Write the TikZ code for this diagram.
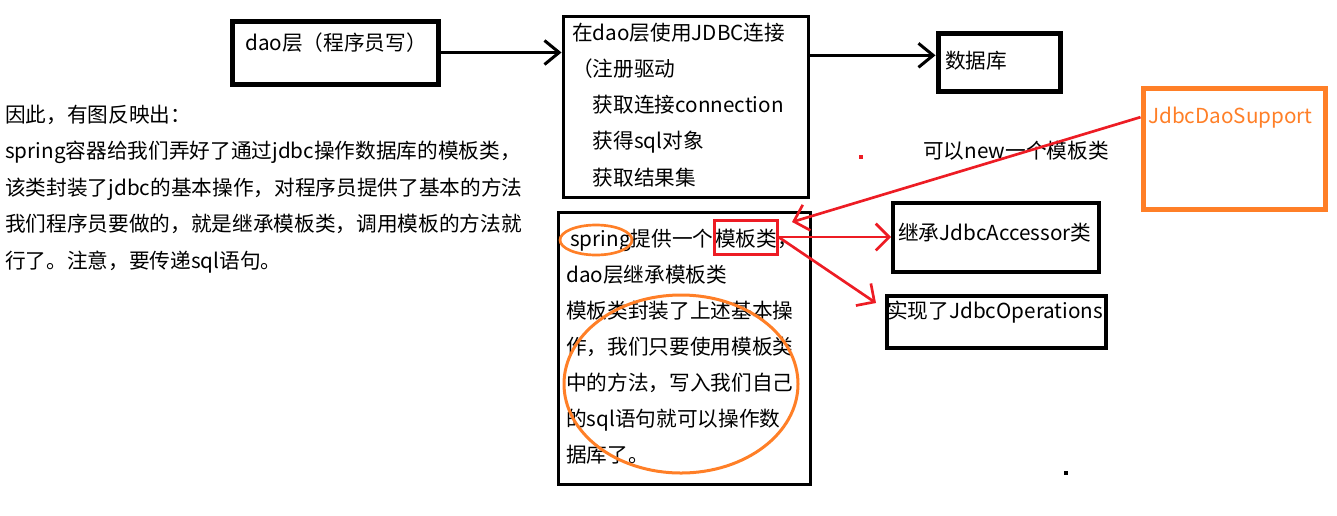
\documentclass[tikz,border=0pt]{standalone}
\usepackage{fontspec}
\setmainfont{Noto Sans CJK SC}
\usetikzlibrary{arrows.meta}
\definecolor{paintred}{RGB}{237,28,36}
\definecolor{paintorange}{RGB}{255,127,39}
\tikzset{
  box/.style={draw, inner sep=0pt, anchor=north west},
  txt/.style={anchor=base west, inner sep=0pt, font=\fontsize{15.5pt}{18pt}\selectfont},
  barb/.style={-{Straight Barb[length=11pt,width=18pt]}},
  redbarb/.style={paintred, line width=2pt, -{Straight Barb[length=10pt,width=20pt]}},
}
\begin{document}
\begin{tikzpicture}[x=0.75pt, y=-0.75pt]
\useasboundingbox (0,0) rectangle (1337,515);

%%%%%%%%%%   remark on the left
\foreach \t [count=\i from 0] in {因此，有图反映出：, spring容器给我们弄好了通过jdbc操作数据库的模板类，, 该类封装了jdbc的基本操作，对程序员提供了基本的方法, 我们程序员要做的，就是继承模板类，调用模板的方法就, 行了。注意，要传递sql语句。}
  \node[txt] (note\i) at (5,122+36.5*\i) {\t};

%%%%%%%%%%   dao -> jdbc -> db
\node[box, line width=3.75pt, minimum width=154.5pt, minimum height=47.25pt] (dao) at (229.5,18.5) {};
\node[txt] (daotext) at (245,50) {dao层（程序员写）};

\node[box, line width=2.5pt, minimum width=183.75pt, minimum height=135.75pt] (jdbc) at (561.5,14.5) {};
\foreach \t [count=\i from 0] in {在dao层使用JDBC连接, （注册驱动, 　获取连接connection, 　获得sql对象, 　获取结果集}
  \node[txt] (jdbc\i) at (572,40+36.3*\i) {\t};

\node[box, line width=3.75pt, minimum width=91.5pt, minimum height=43.5pt] (db) at (935.5,30.5) {};
\node[txt] (dbtext) at (945,68) {数据库};

\draw[line width=2.25pt, barb] (dao.east) -- (dao.east -| jdbc.west);
\draw[line width=2.25pt, barb] ([yshift=5pt]db.west -| jdbc.east) -- ([yshift=5pt]db.west);

%%%%%%%%%%   support class
\node[box, draw=paintorange, line width=3.75pt, minimum width=136.5pt, minimum height=90.75pt] (support) at (1140.5,85.5) {};
\node[txt, text=paintorange] (supporttext) at (1148,123) {JdbcDaoSupport};
\node[txt] (newnote) at (923,158) {可以new一个模板类};
\fill[paintred] (859,155) rectangle (863,159);
\fill (1064,471) rectangle (1068,475);

%%%%%%%%%%   template class
\node[box, line width=2.5pt, minimum width=189pt, minimum height=204pt] (spring) at (556.5,210.5) {};
\node[txt] (springhead) at (570,246) {spring提供一个};
\node[txt] (tmpltext) at (715,246) {模板类，};
\foreach \t [count=\i from 1] in {dao层继承模板类, 模板类封装了上述基本操, 作，我们只要使用模板类, 中的方法，写入我们自己, 的sql语句就可以操作数, 据库了。}
  \node[txt] (spring\i) at (566,246+36.15*\i) {\t};
\node[box, draw=paintred, line width=2.25pt, minimum width=47.25pt, minimum height=25.5pt] (tmpl) at (712.5,218.5) {};
\draw[paintorange, line width=2pt] (596,240) ellipse [x radius=36, y radius=15];
\draw[paintorange, line width=2.25pt] (681,384) ellipse [x radius=117, y radius=89];

\node[box, line width=3pt, minimum width=154.5pt, minimum height=51.75pt] (accessor) at (891,201) {};
\node[txt] (accessortext) at (898,240) {继承JdbcAccessor类};
\node[box, line width=3pt, minimum width=164.25pt, minimum height=39pt] (operations) at (885,294) {};
\node[txt] (operationstext) at (887,318) {实现了JdbcOperations};

\coordinate (tmpltip) at (792,222);
\coordinate (optip) at (876,303);
\draw[redbarb] (support.west |- supporttext.west) -- (tmpltip);
\draw[redbarb] (tmpl.east) -- (tmpl.east -| accessor.west);
\draw[redbarb] (tmpl.east) -- (optip);
\end{tikzpicture}
\end{document}
